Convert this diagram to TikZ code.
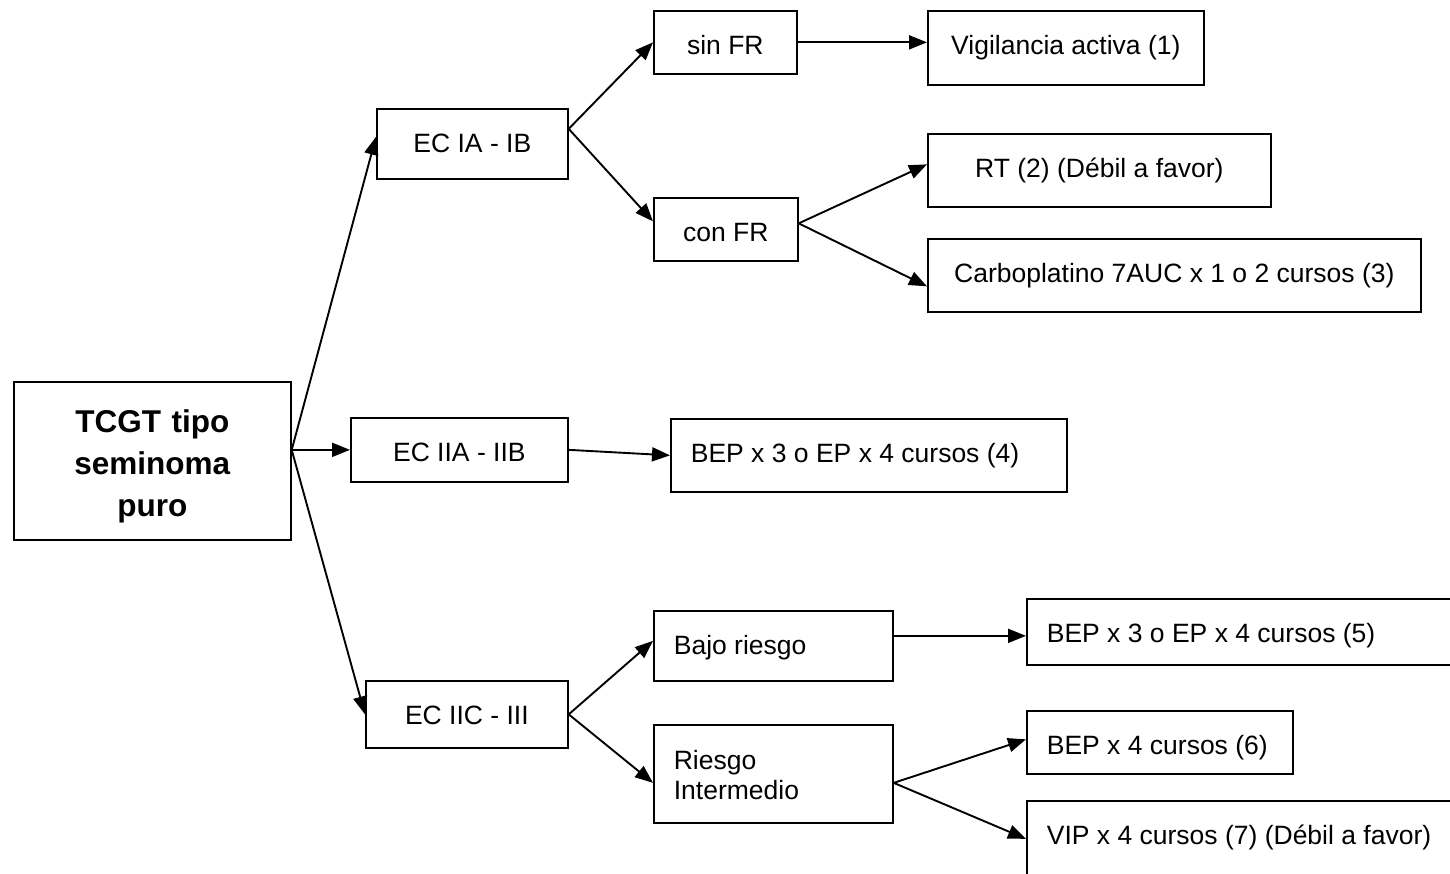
\documentclass[tikz,border=0pt]{standalone}
\usepackage{fontspec}
\setmainfont{Liberation Sans}
\usetikzlibrary{arrows.meta,calc}
\begin{document}
\begin{tikzpicture}[x=1pt,y=-1pt,
 box/.style={draw, line width=1.7pt, rectangle, inner sep=0pt, anchor=north west, font=\fontsize{26.5}{30}\selectfont},
 lbox/.style={box, align=flush left, inner xsep=20pt},
 tp/.style={text depth=0pt, text height=#1},
 arr/.style={line width=1.9pt, -{Triangle[length=18pt,width=14pt]}}]
\useasboundingbox (0,0) rectangle (1450,873);
\clip (0,0) rectangle (1450,873);

\node[box, minimum width=277pt, minimum height=158pt, text width=277pt, align=center, text height=0pt, text depth=56pt, font=\bfseries\fontsize{31.5}{42}\selectfont] (root) at (13,381) {TCGT tipo\\seminoma\\puro};

\node[box, tp=18pt, minimum width=191pt, minimum height=70pt] (ecia) at (376,108) {EC IA - IB};
\node[box, tp=24pt, minimum width=217pt, minimum height=64pt] (eciia) at (350,417) {EC IIA - IIB};
\node[box, tp=21pt, minimum width=202pt, minimum height=67pt] (eciic) at (365,680) {EC IIC - III};

\node[box, tp=25pt, minimum width=143pt, minimum height=63pt] (sinfr) at (653,10) {sin FR};
\node[box, tp=25pt, minimum width=144pt, minimum height=63pt] (confr) at (653,197) {con FR};

\node[box, tp=14pt, minimum width=276pt, minimum height=74pt] (vig) at (927,10) {Vigilancia activa (1)};
\node[box, tp=15pt, minimum width=343pt, minimum height=73pt] (rt) at (927,133) {RT (2) (Débil a favor)};
\node[box, tp=15pt, minimum width=493pt, minimum height=73pt] (carbo) at (927,238) {Carboplatino 7AUC x 1 o 2 cursos (3)};

\node[lbox, tp=15pt, text width=356pt, minimum width=396pt, minimum height=73pt] (bep4) at (670,418) {BEP x 3 o EP x 4 cursos (4)};

\node[lbox, tp=18pt, text width=199pt, minimum width=239pt, minimum height=70pt] (bajo) at (653,610) {Bajo riesgo};
\node[lbox, text height=0pt, text depth=8pt, text width=199pt, minimum width=239pt, minimum height=98pt] (riesgo) at (653,724) {Riesgo\\Intermedio};

\node[lbox, tp=22pt, text width=410pt, minimum width=450pt, minimum height=66pt] (bep5) at (1026,598) {BEP x 3 o EP x 4 cursos (5)};
\node[lbox, tp=25pt, text width=226pt, minimum width=266pt, minimum height=63pt] (bep6) at (1026,710) {BEP x 4 cursos (6)};
\node[lbox, tp=12pt, text width=410pt, minimum width=450pt, minimum height=76pt] (vip) at (1026,800) {VIP x 4 cursos (7) (Débil a favor)};

\coordinate (r) at ([yshift=11pt]root.east);
\draw[arr] (r) -- ([yshift=7pt]ecia.west);
\draw[arr] (r) -- (eciia.west);
\draw[arr] (r) -- (eciic.west);

\coordinate (a) at ([yshift=15pt]ecia.east);
\draw[arr] (a) -- (sinfr.west);
\draw[arr] (a) -- ([yshift=8pt]confr.west);
\draw[arr] (sinfr.east) -- (sinfr.east -| vig.west);

\coordinate (c) at ([yshift=6pt]confr.east);
\draw[arr] (c) -- ([yshift=6pt]rt.west);
\draw[arr] (c) -- ([yshift=-11pt]carbo.west);

\draw[arr] (eciia.east) -- (bep4.west);

\draw[arr] (eciic.east) -- ([yshift=5pt]bajo.west);
\draw[arr] (eciic.east) -- ([yshift=-9pt]riesgo.west);

\coordinate (b) at ([yshift=10pt]bajo.east);
\draw[arr] (b) -- (b -| bep5.west);

\coordinate (q) at ([yshift=-9pt]riesgo.east);
\draw[arr] (q) -- ([yshift=3pt]bep6.west);
\draw[arr] (q) -- (vip.west);
\end{tikzpicture}
\end{document}
